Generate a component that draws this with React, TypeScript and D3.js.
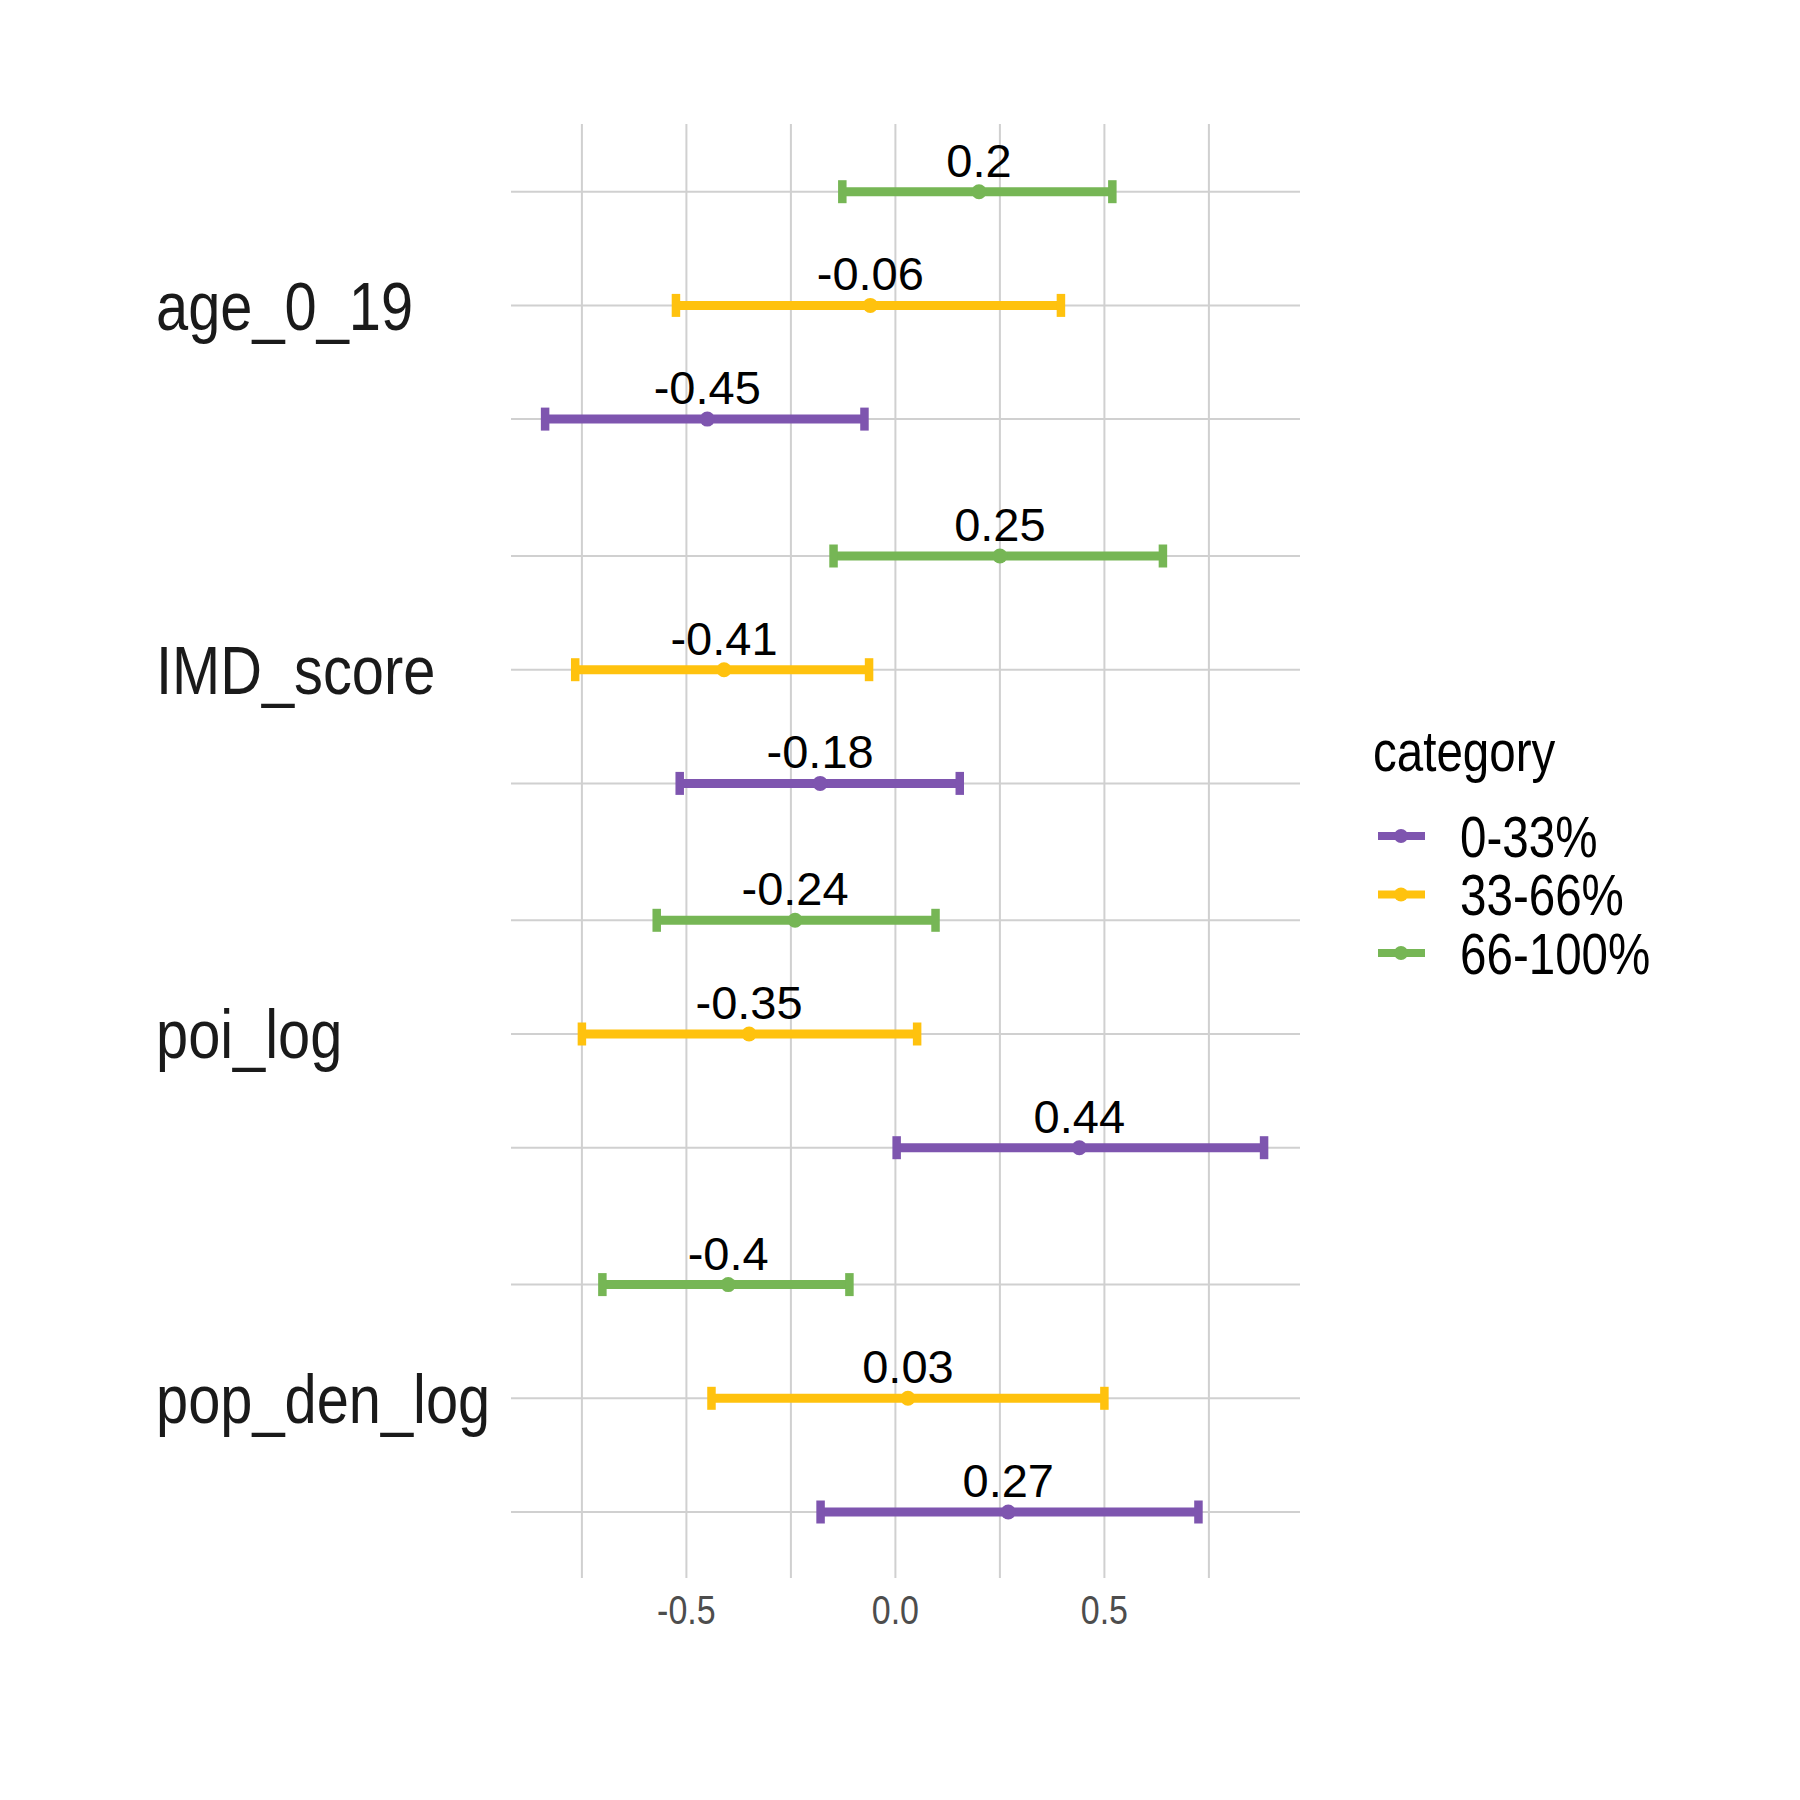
import React from "react";
import * as d3 from "d3";

const variables = ["age_0_19", "IMD_score", "poi_log", "pop_den_log"];
const categories = ["0-33%", "33-66%", "66-100%"];
const colors = ["#7e55af", "#ffc20e", "#76b655"];

// estimates per variable, per category (0-33%, 33-66%, 66-100%)
const estAge = [-0.45, -0.06, 0.2];
const loAge = [-0.838, -0.525, -0.127];
const hiAge = [-0.074, 0.396, 0.519];

const estIMD = [-0.18, -0.41, 0.25];
const loIMD = [-0.516, -0.766, -0.148];
const hiIMD = [0.154, -0.063, 0.64];

const estPoi = [0.44, -0.35, -0.24];
const loPoi = [0.003, -0.75, -0.571];
const hiPoi = [0.882, 0.052, 0.096];

const estPop = [0.27, 0.03, -0.4];
const loPop = [-0.179, -0.44, -0.701];
const hiPop = [0.725, 0.5, -0.11];

const xTicks = [-0.5, 0, 0.5];
const xMinor = [-0.75, -0.25, 0.25, 0.75];

const est = [estAge, estIMD, estPoi, estPop];
const lo = [loAge, loIMD, loPoi, loPop];
const hi = [hiAge, hiIMD, hiPoi, hiPop];

const rows = variables.flatMap((v, i) =>
  categories.map((c, j) => ({ v, c, j, est: est[i][j], lo: lo[i][j], hi: hi[i][j] }))
);

function NText({ x, y, sx, children, ...rest }: any) {
  return (
    <text transform={`translate(${x},${y}) scale(${sx},1)`} {...rest}>
      {children}
    </text>
  );
}

export default function App() {
  const x = d3.scaleLinear().domain([0, 0.5]).range([895.4, 1104.4]);
  const y = d3.scalePoint().domain(variables).range([305.4, 1398.3]);
  const dodge = 113.7;
  const rowY = (r: any) => (y(r.v) as number) + (1 - r.j) * dodge;
  const panelL = 511, panelR = 1300, panelT = 124, panelB = 1578;
  const sans = "'Liberation Sans', Arial, Helvetica, sans-serif";
  const fmt = (v: number) => String(+v.toFixed(2));
  const grid = "#d0d0d0";
  return (
    <svg width={1800} height={1800} style={{ position: "absolute", left: 0, top: 0, background: "#fff" }}>
      <rect width={1800} height={1800} fill="#fff" />
      {[...xMinor, ...xTicks].map((t) => (
        <line key={"v" + t} x1={x(t)} x2={x(t)} y1={panelT} y2={panelB} stroke={grid} strokeWidth={2} />
      ))}
      {rows.map((r, i) => (
        <line key={"h" + i} x1={panelL} x2={panelR} y1={rowY(r)} y2={rowY(r)} stroke={grid} strokeWidth={2} />
      ))}
      {rows.map((r, i) => {
        const yy = rowY(r);
        const col = colors[r.j];
        return (
          <g key={"r" + i}>
            <line x1={x(r.lo)} x2={x(r.hi)} y1={yy} y2={yy} stroke={col} strokeWidth={9} />
            <line x1={x(r.lo)} x2={x(r.lo)} y1={yy - 11.5} y2={yy + 11.5} stroke={col} strokeWidth={8.5} />
            <line x1={x(r.hi)} x2={x(r.hi)} y1={yy - 11.5} y2={yy + 11.5} stroke={col} strokeWidth={8.5} />
            <circle cx={x(r.est)} cy={yy} r={7.5} fill={col} />
            <text x={x(r.est)} y={yy - 15} textAnchor="middle" fontFamily={sans} fontSize={47} fill="#000">
              {fmt(r.est)}
            </text>
          </g>
        );
      })}
      {variables.map((v) => (
        <NText key={v} x={156} y={(y(v) as number)} sx={0.85} dy="0.36em" fontFamily={sans} fontSize={68} fill="#1a1a1a">
          {v}
        </NText>
      ))}
      {xTicks.map((t) => (
        <NText key={"t" + t} x={x(t)} y={1624} sx={0.85} textAnchor="middle" fontFamily={sans} fontSize={40} fill="#4d4d4d">
          {t.toFixed(1)}
        </NText>
      ))}
      <NText x={1373} y={771} sx={0.82} fontFamily={sans} fontSize={58} fill="#000">category</NText>
      {categories.map((c, j) => {
        const yy = 836 + j * 58.5;
        return (
          <g key={c}>
            <line x1={1378} x2={1425} y1={yy} y2={yy} stroke={colors[j]} strokeWidth={8} />
            <circle cx={1401} cy={yy} r={7} fill={colors[j]} />
            <NText x={1460} y={yy} sx={0.82} dy="0.36em" fontFamily={sans} fontSize={58} fill="#000">{c}</NText>
          </g>
        );
      })}
    </svg>
  );
}
